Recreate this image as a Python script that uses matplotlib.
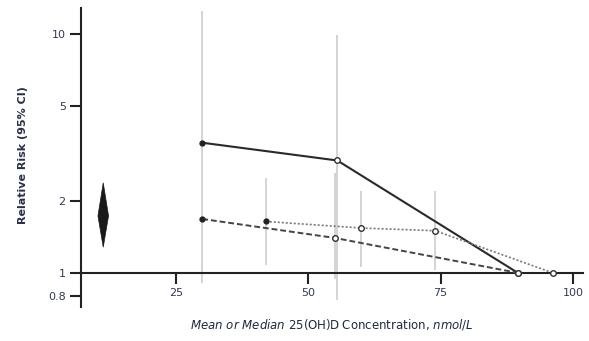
import matplotlib
matplotlib.use("Agg")
import matplotlib.pyplot as plt
from matplotlib.patches import Polygon

plt.rcParams['font.family'] = ['DejaVu Sans']
plt.rcParams['mathtext.fontset'] = 'custom'
plt.rcParams['mathtext.it'] = 'DejaVu Sans:italic'
plt.rcParams['mathtext.rm'] = 'DejaVu Sans'

# Series 1 (solid)
s1_x = [30, 55.5, 89.6]
s1_y = [3.5, 2.95, 1.0]
s1_lo = [0.91, 0.77, None]
s1_hi = [12.4, 9.9, None]

# Series 2 (dashed)
s2_x = [30, 55, 89.6]
s2_y = [1.68, 1.40, 1.0]
s2_lo = [None, 0.94, None]
s2_hi = [None, 2.62, None]

# Series 3 (dotted)
s3_x = [42, 60, 74, 96.2]
s3_y = [1.64, 1.54, 1.50, 1.0]
s3_lo = [1.08, 1.06, 1.03, None]
s3_hi = [2.5, 2.19, 2.19, None]

# Pooled estimate diamond
pool_x = 11.3
pool_est = 1.73
pool_lo = 1.28
pool_hi = 2.38
pool_halfwidth = 1.0

yticks = [0.8, 1, 2, 5, 10]
ytick_labels = ["0.8", "1", "2", "5", "10"]
xticks = [25, 50, 75, 100]
xtick_labels = ["25", "50", "75", "100"]

fig = plt.figure(figsize=(5.89, 3.41), dpi=100)
ax = fig.add_axes([81/589, 34/341, 502/589, 299/341])
ax.set_yscale('log')
ax.set_xlim(7.1, 101.9)
ax.set_ylim(0.72, 12.8)

grey = '#c9c9c9'
for xs, lo, hi in [(s1_x, s1_lo, s1_hi), (s2_x, s2_lo, s2_hi), (s3_x, s3_lo, s3_hi)]:
    for x, l, h in zip(xs, lo, hi):
        if l is not None:
            ax.plot([x, x], [l, h], color=grey, lw=1.1, zorder=1, solid_capstyle='butt')

# lines
ax.plot(s1_x, s1_y, color='#2a2a2a', lw=1.5, ls='-', zorder=3)
ax.plot(s2_x, s2_y, color='#444444', lw=1.4, ls=(0, (3, 1.5)), zorder=3)
ax.plot(s3_x, s3_y, color='#777777', lw=1.2, ls=(0, (1.2, 1.2)), zorder=3)

# markers: first filled, others open
for xs, ys in [(s1_x, s1_y), (s2_x, s2_y), (s3_x, s3_y)]:
    ax.plot(xs[:1], ys[:1], marker='o', ms=3.5, color='#222222', ls='none', zorder=4)
    ax.plot(xs[1:], ys[1:], marker='o', ms=4, mfc='white', mec='#333333', mew=1.0, ls='none', zorder=4)

diamond = Polygon([(pool_x, pool_lo), (pool_x + pool_halfwidth, pool_est),
                   (pool_x, pool_hi), (pool_x - pool_halfwidth, pool_est)],
                  closed=True, facecolor='#1a1a1a', edgecolor='#1a1a1a', lw=0.5, zorder=4)
ax.add_patch(diamond)

for s in ['top', 'right']:
    ax.spines[s].set_visible(False)
ax.spines['bottom'].set_position(('data', 1))
ax.spines['bottom'].set_linewidth(1.5)
ax.spines['left'].set_linewidth(1.5)
ax.spines['left'].set_color('#222222')
ax.spines['bottom'].set_color('#222222')

ax.set_yticks(yticks)
ax.set_yticklabels(ytick_labels)
ax.minorticks_off()
ax.yaxis.set_minor_locator(matplotlib.ticker.NullLocator())
ax.set_xticks(xticks)
ax.set_xticklabels(xtick_labels)
ax.tick_params(axis='both', direction='out', length=8, width=1.5, color='#222222',
               labelsize=8, labelcolor='#333a55')
ax.tick_params(axis='x', pad=3)
ax.tick_params(axis='y', pad=3)

fig.text(23/589, 1 - 155/341, "Relative Risk (95% CI)", rotation=90, ha='center', va='center',
         fontsize=8, fontweight='bold', color='#2a3048')
fig.text(332/589, 1 - 325/341, r"$\it{Mean\ or\ Median}$ 25(OH)D Concentration, $\it{nmol/L}$",
         ha='center', va='center', fontsize=8.5, color='#1f2a40')

fig.savefig("out.png", dpi=100)
